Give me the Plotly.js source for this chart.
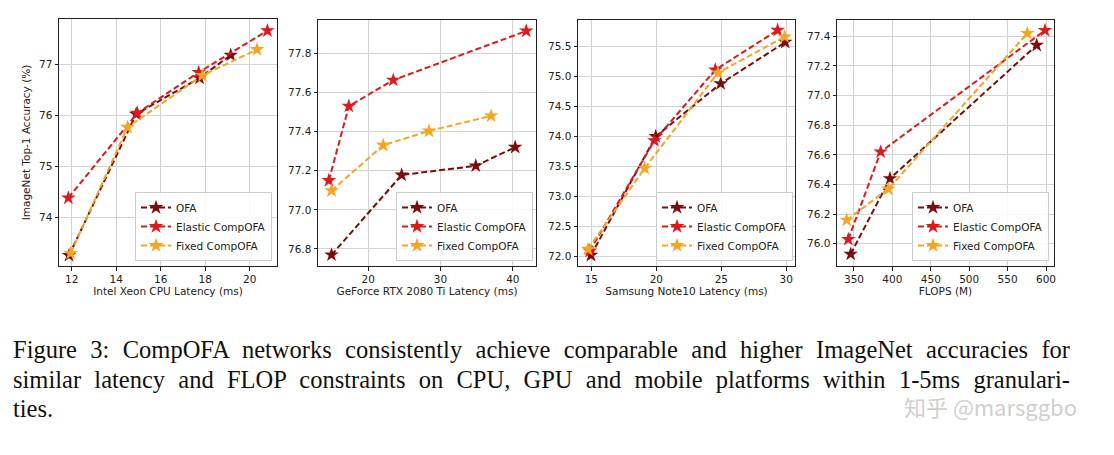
<!DOCTYPE html>
<html>
<head>
<meta charset="utf-8">
<script src="https://cdn.plot.ly/plotly-3.0.1.min.js"></script>
<style>
  body { margin: 0; background: #fff; }
  #wrap { position: relative; width: 1114px; height: 455px; overflow: hidden; }
  #chart { position: absolute; left: 0; top: 0; width: 1114px; height: 455px; }
  #caption { position: absolute; left: 13px; top: 335px; width: 1057px;
    font-family: "Liberation Serif", serif; font-size: 24.5px; line-height: 29.5px; color: #111; }
  #caption .ln { display: block; text-align: justify; text-align-last: justify; white-space: nowrap; }
  #caption .ln.last { text-align-last: left; }
  #mark { position: absolute; left: 904px; top: 395px; font-family: "Noto Sans CJK SC", sans-serif;
    font-size: 22px; line-height: 22px; color: #cfcfcf; white-space: nowrap; }
</style>
</head>
<body>
<div id="wrap">
  <div id="chart"></div>
  <div id="caption">
    <span class="ln">Figure 3: CompOFA networks consistently achieve comparable and higher ImageNet accuracies for</span>
    <span class="ln">similar latency and FLOP constraints on CPU, GPU and mobile platforms within 1-5ms granulari-</span>
    <span class="ln last">ties.</span>
  </div>
  <div id="mark">知乎 @marsggbo</div>
</div>
<script>
// values
var seriesNames = ["OFA", "Elastic CompOFA", "Fixed CompOFA"];

// Intel Xeon CPU latency (ms)
var cpuOfaX = [11.88, 14.9, 17.75, 19.15];
var cpuOfaY = [73.25, 76.03, 76.74, 77.19];
var cpuElasticX = [11.85, 14.95, 17.71, 20.8];
var cpuElasticY = [74.38, 76.05, 76.85, 77.67];
var cpuFixedX = [11.95, 14.51, 17.88, 20.33];
var cpuFixedY = [73.29, 75.77, 76.79, 77.3];

// GeForce RTX 2080 Ti latency (ms)
var gpuOfaX = [14.92, 24.62, 34.87, 40.32];
var gpuOfaY = [76.77, 77.178, 77.225, 77.32];
var gpuElasticX = [14.55, 17.32, 23.46, 41.85];
var gpuElasticY = [77.15, 77.53, 77.663, 77.914];
var gpuFixedX = [14.92, 22.08, 28.4, 36.99];
var gpuFixedY = [77.098, 77.33, 77.403, 77.48];

// Samsung Note10 latency (ms)
var mobOfaX = [14.97, 19.95, 24.95, 29.92];
var mobOfaY = [72.02, 74.0, 74.88, 75.57];
var mobElasticX = [14.87, 19.85, 24.54, 29.33];
var mobElasticY = [72.09, 73.93, 75.11, 75.77];
var mobFixedX = [14.74, 19.1, 24.74, 29.87];
var mobFixedY = [72.12, 73.47, 75.06, 75.66];

// FLOPS (M)
var flopsOfaX = [345.7, 396.9, 587.9];
var flopsOfaY = [75.93, 76.44, 77.34];
var flopsElasticX = [342.6, 384.7, 598.7];
var flopsElasticY = [76.03, 76.62, 77.44];
var flopsFixedX = [340.5, 394.7, 575.7];
var flopsFixedY = [76.16, 76.37, 77.42];

var xTitles = ["Intel Xeon CPU Latency (ms)", "GeForce RTX 2080 Ti Latency (ms)", "Samsung Note10 Latency (ms)", "FLOPS (M)"];
var yTitle = "ImageNet Top-1 Accuracy (%)";

var cpuXTicks = [12, 14, 16, 18, 20];
var cpuYTicks = [74, 75, 76, 77];
var gpuXTicks = [20, 30, 40];
var gpuYTicks = [76.8, 77.0, 77.2, 77.4, 77.6, 77.8];
var mobXTicks = [15, 20, 25, 30];
var mobYTicks = [72.0, 72.5, 73.0, 73.5, 74.0, 74.5, 75.0, 75.5];
var flopsXTicks = [350, 400, 450, 500, 550, 600];
var flopsYTicks = [76.0, 76.2, 76.4, 76.6, 76.8, 77.0, 77.2, 77.4];

var colors = ["#7e0b0b", "#e3161c", "#f7a51e"];
var W = 1114, H = 455;

// plot areas in pixels: [left, right, top, bottom]
var boxes = [[59, 277, 19, 266], [318, 536, 20, 266], [578, 795, 20, 266], [837, 1054, 20, 266]];
var legendRight = [272, 533, 793, 1049];

var panels = [
  { xs: [cpuOfaX, cpuElasticX, cpuFixedX], ys: [cpuOfaY, cpuElasticY, cpuFixedY],
    xr: [11.43, 21.23], yr: [73.04, 77.9], xt: cpuXTicks, yt: cpuYTicks, yf: "d" },
  { xs: [gpuOfaX, gpuElasticX, gpuFixedX], ys: [gpuOfaY, gpuElasticY, gpuFixedY],
    xr: [13.05, 43.2], yr: [76.713, 77.97], xt: gpuXTicks, yt: gpuYTicks, yf: ".1f" },
  { xs: [mobOfaX, mobElasticX, mobFixedX], ys: [mobOfaY, mobElasticY, mobFixedY],
    xr: [13.97, 30.67], yr: [71.84, 75.94], xt: mobXTicks, yt: mobYTicks, yf: ".1f" },
  { xs: [flopsOfaX, flopsElasticX, flopsFixedX], ys: [flopsOfaY, flopsElasticY, flopsFixedY],
    xr: [327.9, 610.4], yr: [75.85, 77.51], xt: flopsXTicks, yt: flopsYTicks, yf: ".1f" }
];

var tickFont = { family: "DejaVu Sans", size: 10.5, color: "#222" };
var data = [];
var layout = {
  width: W, height: H,
  margin: { l: 0, r: 0, t: 0, b: 0 },
  paper_bgcolor: "rgba(0,0,0,0)",
  plot_bgcolor: "#fff",
  font: tickFont
};

panels.forEach(function (p, i) {
  var n = i + 1;
  var xa = "x" + (n === 1 ? "" : n), ya = "y" + (n === 1 ? "" : n);
  var lg = "legend" + (n === 1 ? "" : n);
  for (var s = 0; s < 3; s++) {
    data.push({
      x: p.xs[s], y: p.ys[s],
      name: seriesNames[s],
      xaxis: xa, yaxis: ya, legend: lg,
      mode: "lines+markers", type: "scatter",
      line: { color: colors[s], width: 2, dash: "6px,3px" },
      marker: { symbol: "star", size: 11, color: colors[s] }
    });
  }
  var b = boxes[i];
  var axCommon = {
    showline: true, mirror: true, linecolor: "#222", linewidth: 1,
    ticks: "outside", ticklen: 3.5, tickcolor: "#222",
    showgrid: true, gridcolor: "#d3d3d3", gridwidth: 1,
    zeroline: false, tickfont: tickFont
  };
  layout["xaxis" + (n === 1 ? "" : n)] = Object.assign({}, axCommon, {
    domain: [b[0] / W, b[1] / W], anchor: ya, range: p.xr,
    tickmode: "array", tickvals: p.xt,
    title: { text: xTitles[i], font: tickFont, standoff: 3 }
  });
  layout["yaxis" + (n === 1 ? "" : n)] = Object.assign({}, axCommon, {
    domain: [1 - b[3] / H, 1 - b[2] / H], anchor: xa, range: p.yr,
    tickmode: "array", tickvals: p.yt, tickformat: p.yf,
    title: { text: n === 1 ? yTitle : "", font: tickFont, standoff: 6 }
  });
  layout[lg] = {
    x: legendRight[i] / W, y: 1 - 261 / H, xanchor: "right", yanchor: "bottom",
    bgcolor: "rgba(255,255,255,0.85)", bordercolor: "#cccccc", borderwidth: 1,
    font: { family: "DejaVu Sans", size: 10.5, color: "#222" },
    itemwidth: 30, tracegroupgap: 0
  };
});

Plotly.newPlot("chart", data, layout, { staticPlot: true });
</script>
</body>
</html>
